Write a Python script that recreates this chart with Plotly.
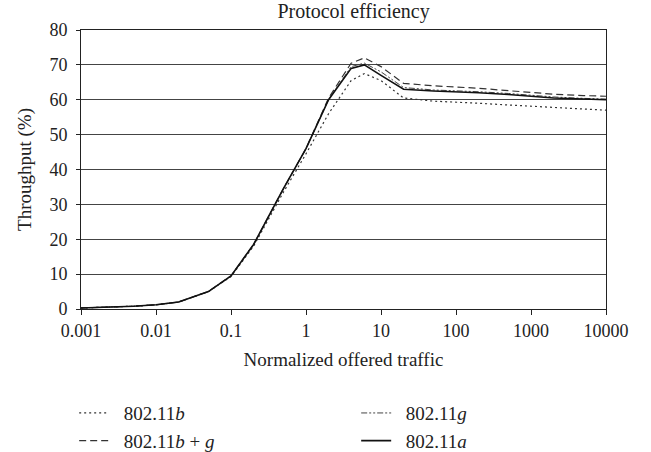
import plotly.graph_objects as go

traffic = [0.001, 0.002, 0.005, 0.01, 0.02, 0.05, 0.1, 0.2, 0.5, 1, 2, 4, 6, 10, 20, 50, 100, 200, 500, 1000, 2000, 5000, 10000]

tp_b  = [0.3, 0.5, 0.8, 1.2, 2.0, 5.0, 9.3, 18.0, 33.5, 44.5, 56.0, 65.5, 67.5, 65.5, 60.5, 59.6, 59.4, 59.0, 58.5, 58.2, 57.8, 57.3, 57.0]
tp_bg = [0.3, 0.5, 0.8, 1.2, 2.0, 5.0, 9.5, 18.5, 34.5, 46.0, 60.5, 70.5, 72.0, 69.5, 64.7, 64.0, 63.7, 63.3, 62.6, 62.1, 61.6, 61.2, 61.0]
tp_g  = [0.3, 0.5, 0.8, 1.2, 2.0, 5.0, 9.5, 18.5, 34.5, 46.0, 60.0, 69.5, 70.5, 68.0, 63.5, 62.8, 62.6, 62.3, 61.8, 61.3, 60.8, 60.4, 60.2]
tp_a  = [0.3, 0.5, 0.8, 1.2, 2.0, 5.0, 9.5, 18.5, 34.5, 46.0, 60.0, 69.0, 70.0, 67.0, 63.0, 62.5, 62.3, 62.0, 61.5, 61.0, 60.5, 60.2, 60.0]

x_ticks = [0.001, 0.01, 0.1, 1, 10, 100, 1000, 10000]
x_ticklabels = ["0.001", "0.01", "0.1", "1", "10", "100", "1000", "10000"]
y_ticks = [0, 10, 20, 30, 40, 50, 60, 70, 80]

FONT = "Liberation Serif"
SP = "\u00a0\u00a0"

fig = go.Figure()
fig.add_trace(go.Scatter(x=traffic, y=tp_b, mode="lines", name=SP + "802.11<i>b</i>",
                         line=dict(color="#333333", width=1.2, dash="2px,3px")))
fig.add_trace(go.Scatter(x=traffic, y=tp_g, mode="lines", name=SP + "802.11<i>g</i>",
                         line=dict(color="#444444", width=1, dash="6px,2px,2px,2px,2px,2px")))
fig.add_trace(go.Scatter(x=traffic, y=tp_bg, mode="lines", name=SP + "802.11<i>b</i> + <i>g</i>",
                         line=dict(color="#333333", width=1.2, dash="7px,4px")))
fig.add_trace(go.Scatter(x=traffic, y=tp_a, mode="lines", name=SP + "802.11<i>a</i>",
                         line=dict(color="#111111", width=1.6)))

fig.update_layout(
    width=651, height=452,
    margin=dict(l=81, r=45, t=30, b=143, autoexpand=False),
    paper_bgcolor="white", plot_bgcolor="white",
    font=dict(family=FONT, size=18, color="#222222"),
    title=dict(text="Protocol efficiency", x=338/651, xanchor="center", xref="paper",
               y=1 - 11/452, yref="container", yanchor="middle",
               font=dict(family=FONT, size=20, color="#222222")),
    xaxis=dict(type="log", range=[-3, 4], tickvals=x_ticks, ticktext=x_ticklabels,
               showgrid=False, ticks="outside", ticklen=5, tickcolor="#222222",
               showline=True, linecolor="#222222", linewidth=1, mirror=True,
               title=dict(text="Normalized offered traffic", standoff=13,
                          font=dict(size=19)),
               tickfont=dict(size=18)),
    yaxis=dict(range=[0, 80], tickvals=y_ticks, showgrid=True, gridcolor="#444444", gridwidth=1,
               ticks="outside", ticklen=4, tickcolor="#222222", ticklabelstandoff=5,
               showline=True, linecolor="#222222", linewidth=1, mirror=True,
               zeroline=False,
               title=dict(text="Throughput (%)", standoff=12, font=dict(size=19)),
               tickfont=dict(size=18)),
    legend=dict(orientation="h", x=-0.013, xanchor="left",
                y=-0.305, yanchor="top",
                entrywidth=237, entrywidthmode="pixels",
                font=dict(family=FONT, size=19, color="#222222"),
                bgcolor="rgba(0,0,0,0)"),
    showlegend=True,
)

fig.write_html("out.html")
